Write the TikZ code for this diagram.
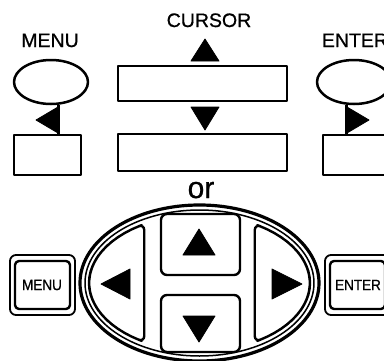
\documentclass[tikz,border=0pt]{standalone}
\usepackage{fontspec}
\setmainfont[FakeBold=0.8]{Liberation Sans}
\newfontfamily\keyfont[FakeStretch=0.9,FakeBold=0.8]{Liberation Sans}
\usetikzlibrary{shapes.geometric}
\begin{document}
\begin{tikzpicture}[x=1pt,y=-1pt,line join=round,
  lbl/.style={font=\fontsize{19.5}{20}\selectfont,inner sep=0pt,anchor=base},
  keylbl/.style={font=\keyfont\fontsize{15}{15}\selectfont,inner sep=0pt},
  box/.style={draw,line width=2.5pt,inner sep=0pt},
  oval/.style={draw,ellipse,line width=2.5pt,inner sep=0pt,minimum width=74pt,minimum height=44pt},
  tri/.style={fill=black,draw=black,line width=0.8pt},
  key/.style={draw,line width=2.4pt,rounded corners=6pt},
  conn/.style={draw,line width=2.5pt}]
\useasboundingbox (0,0) rectangle (384,360);
% ---------- top part ----------
\node[lbl] (cursor) at (209,27) {CURSOR};
\node[lbl] (menu) at (50,47) {MENU};
\node[lbl] (enter) at (355,47) {ENTER};
\draw[tri] (191,61) -- (219,61) -- (205,39) -- cycle;
\draw[tri] (191,107) -- (219,107) -- (205,130) -- cycle;
\node[box,minimum width=169pt,minimum height=35pt] (topbar) at (202.5,83.5) {};
\node[box,minimum width=169pt,minimum height=37pt] (botbar) at (202.5,152.5) {};
\node[oval] (menuoval) at (51,82) {};
\node[oval] (enteroval) at (354,82) {};
\node[box,minimum width=67pt,minimum height=40pt] (menubox) at (47.5,155) {};
\node[box,minimum width=67pt,minimum height=40pt] (enterbox) at (356.5,155) {};
\draw[conn] (menuoval.-72) -- (menuoval.-72 |- menubox.north);
\draw[conn] (enteroval.-108) -- (enteroval.-108 |- enterbox.north);
\draw[tri] (58,107) -- (58,133) -- (36,120) -- cycle;
\draw[tri] (347,107) -- (347,133) -- (369,120) -- cycle;
% ---------- or ----------
\node[font=\fontsize{30}{30}\selectfont,inner sep=0pt,anchor=base] (or) at (201,198) {or};
% ---------- bottom part ----------
\draw[line width=3.2pt] (199.5,283) ellipse [x radius=119.5pt, y radius=78pt];
\draw[line width=1.5pt] (199.5,283) ellipse [x radius=114.5pt, y radius=73pt];
\draw[key] plot[domain=120:240,samples=25] ({199.5+110.5*cos(\x)},{283-68*sin(\x)}) -- cycle;
\draw[key] plot[domain=-60:60,samples=25] ({199.5+110.5*cos(\x)},{283-68*sin(\x)}) -- cycle;
\draw[key] (161,214) rectangle (240,275);
\draw[key] (161,295) rectangle (240,352);
\draw[tri] (183,255) -- (215,255) -- (199,229) -- cycle;
\draw[tri] (183,316) -- (215,316) -- (199,342) -- cycle;
\draw[tri] (130,269) -- (130,299) -- (101,284) -- cycle;
\draw[tri] (272,269) -- (272,299) -- (302,284) -- cycle;
% MENU key
\draw[line width=1.8pt,rounded corners=6pt] (10,255) rectangle (75,315);
\draw[line width=2.4pt,rounded corners=4pt] (15,261) rectangle (70,309);
\node[keylbl] (menukey) at (42,285) {MENU};
% ENTER key
\draw[line width=1.8pt,rounded corners=6pt] (325,255) rectangle (390,315);
\draw[line width=2.4pt,rounded corners=4pt] (330,261) rectangle (385,309);
\node[keylbl] (enterkey) at (358,285) {ENTER};
\end{tikzpicture}
\end{document}
